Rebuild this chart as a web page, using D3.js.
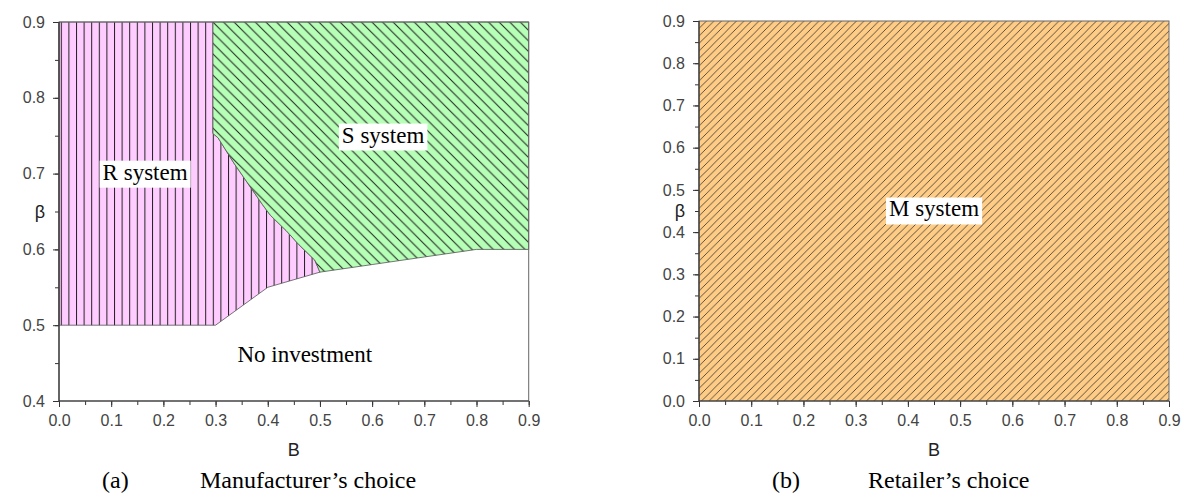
<!DOCTYPE html>
<meta charset="utf-8">
<head>
	<title>Manufacturer and retailer choice</title>
	<style>
		body { margin: 0; background: #FFFFFF; }
		svg { display: block; }
		.tick text { font: 16px "Liberation Sans", Arial, sans-serif; fill: #444; }
		.axisTitle { font: 18px "Liberation Sans", Arial, sans-serif; fill: #222; }
		.regionText { font: 23px "Liberation Serif", "Times New Roman", serif; fill: #000; }
		.caption { font: 24px "Liberation Serif", "Times New Roman", serif; fill: #000; }
		.hatch { stroke: #222; stroke-width: 1; }
		.hatchThin { stroke: #333; stroke-width: 0.8; }
	</style>
	<script src="https://d3js.org/d3.v7.min.js"></script>
</head>
<body>
<script>
	// values
	const bDomain = [0, 0.9];
	const betaDomainA = [0.4, 0.9];
	const betaDomainB = [0, 0.9];

	// lower edge of the investing zone (below it: no investment)
	const lowerEdgeB    = [0,   0.3, 0.4,  0.5,  0.6,  0.7,  0.8, 0.9];
	const lowerEdgeBeta = [0.5, 0.5, 0.55, 0.57, 0.58, 0.59, 0.6, 0.6];

	// edge between R system and S system
	const rsEdgeB    = [0.295, 0.295, 0.305, 0.335, 0.36,  0.39,  0.405, 0.435, 0.46,  0.49,  0.50];
	const rsEdgeBeta = [0.9,   0.753, 0.747, 0.714, 0.689, 0.659, 0.645, 0.625, 0.606, 0.586, 0.57];

	const labelsA = ["R system", "S system", "No investment"];
	const labelsB = ["M system"];
	const captionsA = ["(a)", "Manufacturer\u2019s choice"];
	const captionsB = ["(b)", "Retailer\u2019s choice"];

	const W = 1188, H = 496;
	const svg = d3.select('body').append('svg').attr('width', W).attr('height', H);

	const defs = svg.append('defs');
	function hatch(id, fill, size, cls, lines){
		const p = defs.append('pattern').attr('id', id)
			.attr('patternUnits', 'userSpaceOnUse')
			.attr('width', size).attr('height', size);
		p.append('rect').attr('width', size).attr('height', size).attr('fill', fill);
		lines.forEach(l => p.append('line').attr('class', cls)
			.attr('x1', l[0]).attr('y1', l[1]).attr('x2', l[2]).attr('y2', l[3]));
	}
	hatch('hatchR', '#FFCCFF', 7.6, 'hatch', [[0.5, 0, 0.5, 7.6]]);
	hatch('hatchS', '#B6FFB6', 10.6, 'hatch', [[0, 0, 10.6, 10.6], [-1, 9.6, 1, 11.6], [9.6, -1, 11.6, 1]]);
	hatch('hatchM', '#FFCC85', 7.5, 'hatchThin', [[0, 7.5, 7.5, 0], [-1, 1, 1, -1], [6.5, 8.5, 8.5, 6.5]]);

	function axes(g, x, y, yMajor){
		const [x0, x1] = x.range(), [y1, y0] = y.range();
		const bMinor = d3.range(0, 0.9001, 0.05);
		const yMinor = d3.range(y.domain()[0], y.domain()[1] + 0.0001, 0.05);

		g.append('g').attr('transform', `translate(0,${y1})`)
			.call(d3.axisBottom(x).tickValues(bMinor).tickSize(4).tickFormat(''))
			.call(a => a.select('.domain').remove())
			.selectAll('line').attr('stroke', '#333');
		g.append('g').attr('transform', `translate(${x0},0)`)
			.call(d3.axisLeft(y).tickValues(yMinor).tickSize(4).tickFormat(''))
			.call(a => a.select('.domain').remove())
			.selectAll('line').attr('stroke', '#333');

		const xa = g.append('g').attr('transform', `translate(0,${y1})`)
			.call(d3.axisBottom(x).tickValues(d3.range(0, 0.9001, 0.1)).tickSize(6).tickPadding(8).tickFormat(d3.format('.1f')));
		xa.select('.domain').remove();
		xa.selectAll('line').attr('stroke', '#333');
		xa.selectAll('text').attr('dy', '0.71em');

		const ya = g.append('g').attr('transform', `translate(${x0},0)`)
			.call(d3.axisLeft(y).tickValues(yMajor).tickSize(6).tickPadding(8).tickFormat(d3.format('.1f')));
		ya.select('.domain').remove();
		ya.selectAll('line').attr('stroke', '#333');

		// frame
		g.append('rect').attr('x', x0).attr('y', y0).attr('width', x1 - x0).attr('height', y1 - y0)
			.attr('fill', 'none').attr('stroke', '#666').attr('stroke-width', 1);
		g.append('path').attr('d', `M${x0},${y0}V${y1}H${x1}`)
			.attr('fill', 'none').attr('stroke', '#333').attr('stroke-width', 1.2);

		g.append('text').attr('class', 'axisTitle').attr('x', (x0 + x1) / 2).attr('y', 456)
			.attr('text-anchor', 'middle').text('B');
		g.append('text').attr('class', 'axisTitle').attr('x', x0 - 19).attr('y', (y0 + y1) / 2 + 6)
			.attr('text-anchor', 'middle').text('\u03B2');
	}

	function boxedLabel(g, text, cx, cy, boxed){
		const t = g.append('text').attr('class', 'regionText')
			.attr('x', cx).attr('y', cy).attr('dy', '0.33em')
			.attr('text-anchor', 'middle').text(text);
		if (boxed){
			const bb = t.node().getBBox();
			g.insert('rect', () => t.node())
				.attr('x', bb.x - 3).attr('y', bb.y + 1).attr('width', bb.width + 6).attr('height', bb.height + 2)
				.attr('fill', '#FFFFFF');
		}
	}

	// ---- (a) manufacturer
	const xA = d3.scaleLinear().domain(bDomain).range([59, 528.7]);
	const yA = d3.scaleLinear().domain(betaDomainA).range([401, 22]);
	const gA = svg.append('g');
	const line = (x, y) => d3.line().x(d => x(d[0])).y(d => y(d[1]));

	const lower = lowerEdgeB.map((b, i) => [b, lowerEdgeBeta[i]]);
	const rsEdge = rsEdgeB.map((b, i) => [b, rsEdgeBeta[i]]);
	const split = rsEdge[rsEdge.length - 1][0];

	const rPoly = [[0, 0.9]].concat(rsEdge, lower.filter(d => d[0] < split).reverse());
	const sPoly = [[bDomain[1], 0.9]].concat(lower.filter(d => d[0] > split).reverse(), rsEdge.slice().reverse());

	gA.append('path').attr('d', line(xA, yA)(rPoly) + 'Z')
		.attr('fill', 'url(#hatchR)').attr('stroke', '#555').attr('stroke-width', 0.8);
	gA.append('path').attr('d', line(xA, yA)(sPoly) + 'Z')
		.attr('fill', 'url(#hatchS)').attr('stroke', '#555').attr('stroke-width', 0.8);

	axes(gA, xA, yA, d3.range(0.4, 0.9001, 0.1));

	boxedLabel(gA, labelsA[0], xA(0.165), yA(0.702), true);
	boxedLabel(gA, labelsA[1], xA(0.621), yA(0.751), true);
	boxedLabel(gA, labelsA[2], xA(0.471), yA(0.462), false);

	// ---- (b) retailer
	const xB = d3.scaleLinear().domain(bDomain).range([699, 1169]);
	const yB = d3.scaleLinear().domain(betaDomainB).range([401, 21]);
	const gB = svg.append('g');
	gB.append('rect').attr('x', xB(0)).attr('y', yB(0.9)).attr('width', xB(0.9) - xB(0)).attr('height', yB(0) - yB(0.9))
		.attr('fill', 'url(#hatchM)');
	axes(gB, xB, yB, d3.range(0, 0.9001, 0.1));
	boxedLabel(gB, labelsB[0], xB(0.45), yB(0.455), true);

	// captions
	svg.append('text').attr('class', 'caption').attr('x', 102).attr('y', 488).text(captionsA[0]);
	svg.append('text').attr('class', 'caption').attr('x', 200).attr('y', 488).text(captionsA[1]);
	svg.append('text').attr('class', 'caption').attr('x', 772).attr('y', 488).text(captionsB[0]);
	svg.append('text').attr('class', 'caption').attr('x', 868).attr('y', 488).text(captionsB[1]);
</script>
</body>
